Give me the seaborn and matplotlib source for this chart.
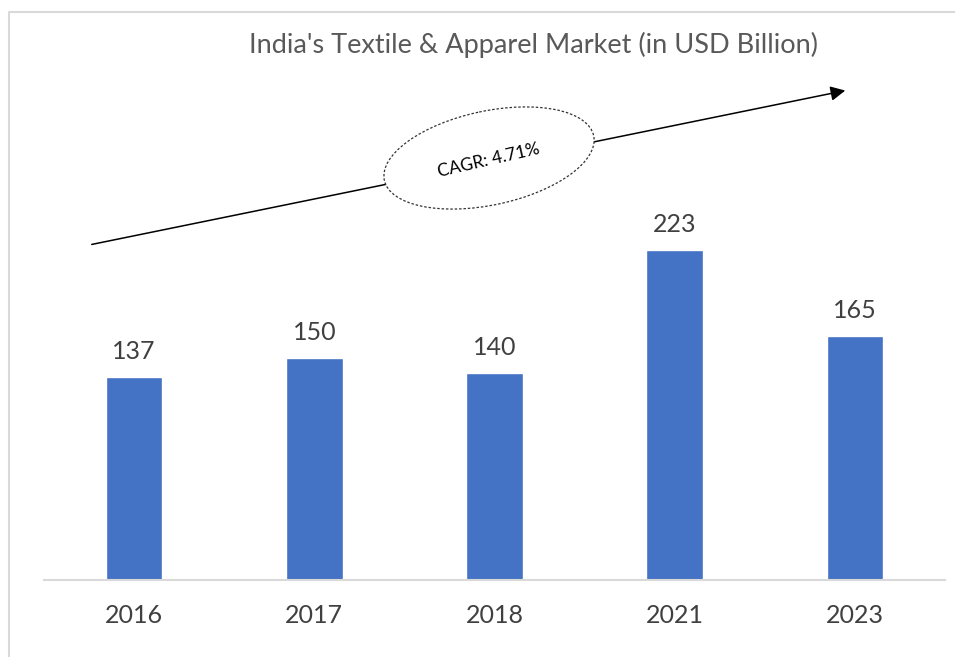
import matplotlib
matplotlib.use("Agg")
import matplotlib.pyplot as plt
import seaborn as sns
import pandas as pd
from matplotlib.patches import Ellipse, FancyArrowPatch

# Data
years = ["2016", "2017", "2018", "2021", "2023"]
market_size = [137, 150, 140, 223, 165]
title = "India's Textile & Apparel Market (in USD Billion)"
cagr_label = "CAGR: 4.71%"

df = pd.DataFrame({"Year": years, "Market": market_size})

sns.set_style("white")
plt.rcParams["font.family"] = ["Lato", "DejaVu Sans"]

fig = plt.figure(figsize=(9.55, 6.57), dpi=100)
ax = fig.add_axes([44 / 955, 77 / 657, 901 / 955, 550 / 657])

sns.barplot(data=df, x="Year", y="Market", color="#4472C4", saturation=1,
            width=0.315, ax=ax)
ax.set_ylim(0, 550 / (330 / 223))
ax.set_xlim(-0.5, len(years) - 0.5)

for i, v in enumerate(market_size):
    ax.annotate(str(v), (i, v), xytext=(0, 10), textcoords="offset points",
                ha="center", va="bottom", fontsize=18, color="#404040")

ax.set_xlabel("")
ax.set_ylabel("")
ax.set_yticks([])
ax.tick_params(axis="x", length=0, labelsize=18, labelcolor="#404040", pad=17)
for side in ["top", "left", "right"]:
    ax.spines[side].set_visible(False)
ax.spines["bottom"].set_color("#D9D9D9")
ax.spines["bottom"].set_linewidth(1.5)

# overlay in pixel coordinates for the frame, title, arrow and ellipse
ov = fig.add_axes([0, 0, 1, 1], facecolor="none")
ov.set_xlim(0, 955)
ov.set_ylim(657, 0)
ov.axis("off")

ov.plot([9, 9, 960], [670, 12, 12], color="#D9D9D9", lw=1.5)
ov.text(533, 45, title, ha="center", va="center", fontsize=19.5, color="#595959")

arrow = FancyArrowPatch((89, 245), (848, 90), arrowstyle="-|>",
                        mutation_scale=22, lw=1.1, color="black")
ov.add_patch(arrow)
ov.add_patch(Ellipse((489, 158), 214, 94, angle=-12, facecolor="white",
                     edgecolor="#333333", lw=0.9, linestyle=(0, (2, 1.5))))
ov.text(489, 160, cagr_label, ha="center", va="center", rotation=13,
        fontsize=12.5, color="black")

fig.savefig("out.png", dpi=100)
